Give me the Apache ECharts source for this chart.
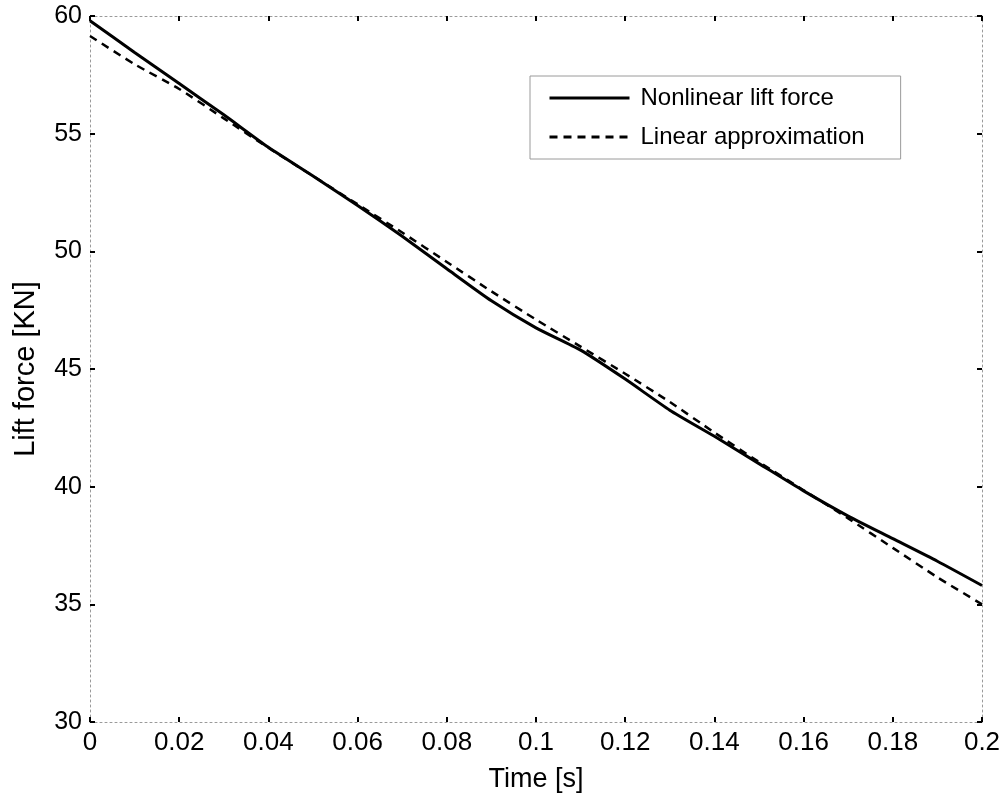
<!DOCTYPE html>
<html>
<head>
<meta charset="utf-8">
<script src="https://cdn.jsdelivr.net/npm/echarts@6/dist/echarts.min.js"></script>
<style>html,body{margin:0;padding:0;background:#fff}#c{width:1008px;height:799px}</style>
</head>
<body>
<div id="c"></div>
<script>
const time = [0,0.01,0.02,0.03,0.04,0.05,0.06,0.07,0.08,0.09,0.1,0.11,0.12,0.13,0.14,0.15,0.16,0.17,0.18,0.19,0.2];
const nonlinearLift = [59.8,58.45,57.13,55.8,54.42,53.2,51.95,50.64,49.26,47.9,46.75,45.8,44.57,43.25,42.14,40.98,39.82,38.75,37.79,36.83,35.8];
const linearApprox = [59.15,57.95,56.9,55.65,54.4,53.2,52.0,50.8,49.55,48.3,47.1,45.95,44.8,43.6,42.3,41.05,39.85,38.65,37.4,36.15,35.0];
const seriesNames = ['Nonlinear lift force','Linear approximation'];
const xTicks = {min:0, max:0.2, interval:0.02};
const yTicks = {min:30, max:60, interval:5};

const font = 'Liberation Sans, Arial, sans-serif';
const chart = echarts.init(document.getElementById('c'));
const axisLineStyle = {color:'#9a9a9a', width:1, type:[2,3]};
const tick = {show:true, inside:true, length:5, lineStyle:{color:'#000', width:2}};
chart.setOption({
  animation:false,
  backgroundColor:'#fff',
  grid:{left:90, right:26, top:16, bottom:77},
  legend:{
    orient:'vertical', left:530, top:76,
    padding:[10,36,10,18], itemGap:15,
    itemWidth:80, itemHeight:16,
    borderColor:'#9a9a9a', borderWidth:1,
    itemStyle:{opacity:0},
    lineStyle:{width:3},
    textStyle:{fontFamily:font, fontSize:24, color:'#000', padding:[0,0,0,6]},
    data:seriesNames
  },
  xAxis:[{
    type:'value', min:xTicks.min, max:xTicks.max, interval:xTicks.interval,
    name:'Time [s]', nameLocation:'middle', nameGap:44,
    nameTextStyle:{fontFamily:font, fontSize:27, color:'#000'},
    axisLine:{show:true, onZero:false, lineStyle:axisLineStyle},
    axisTick:tick,
    axisLabel:{fontFamily:font, fontSize:26, color:'#000', margin:8},
    splitLine:{show:false}
  },{
    type:'value', position:'top', min:xTicks.min, max:xTicks.max, interval:xTicks.interval,
    axisLine:{show:true, onZero:false, lineStyle:axisLineStyle},
    axisTick:tick, axisLabel:{show:false}, splitLine:{show:false}
  }],
  yAxis:[{
    type:'value', min:yTicks.min, max:yTicks.max, interval:yTicks.interval,
    name:'Lift force [KN]', nameLocation:'middle', nameGap:50,
    nameTextStyle:{fontFamily:font, fontSize:29, color:'#000'},
    axisLine:{show:true, onZero:false, lineStyle:axisLineStyle},
    axisTick:tick,
    axisLabel:{fontFamily:font, fontSize:25, color:'#000', margin:8},
    splitLine:{show:false}
  },{
    type:'value', position:'right', min:yTicks.min, max:yTicks.max, interval:yTicks.interval,
    axisLine:{show:true, onZero:false, lineStyle:axisLineStyle},
    axisTick:tick, axisLabel:{show:false}, splitLine:{show:false}
  }],
  series:[{
    name:seriesNames[0], type:'line', symbol:'none', smooth:0.2,
    data:time.map((t,i)=>[t, nonlinearLift[i]]),
    lineStyle:{color:'#000', width:3, type:'solid'},
    itemStyle:{color:'#000'}
  },{
    name:seriesNames[1], type:'line', symbol:'none', smooth:0.2,
    data:time.map((t,i)=>[t, linearApprox[i]]),
    lineStyle:{color:'#000', width:2.5, type:[8,6]},
    itemStyle:{color:'#000'}
  }]
});
</script>
</body>
</html>
